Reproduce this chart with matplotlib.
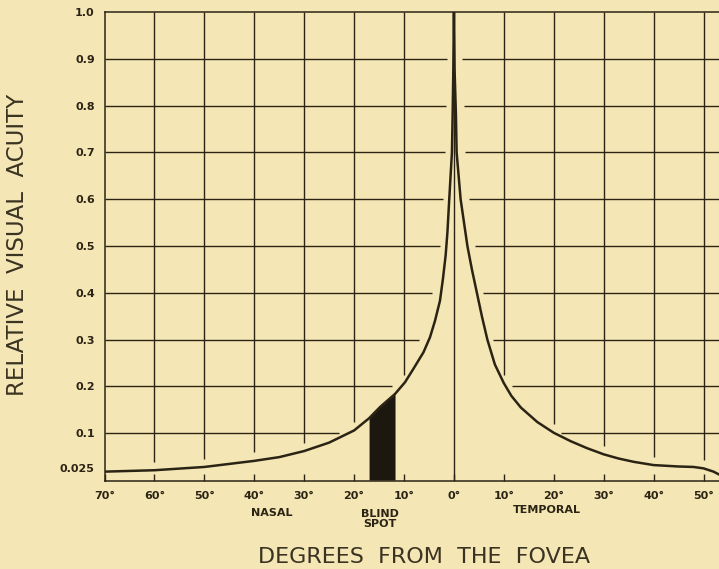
import numpy as np
import matplotlib
matplotlib.use("Agg")
import matplotlib.pyplot as plt

# degrees from the fovea: nasal negative, temporal positive
deg = [-70, -60, -50, -40, -35, -30, -25, -20, -17, -14.8, -11.8, -9.8, -8.1, -6.1,
       -4.8, -3.8, -2.8, -2.2, -1.66, -1.3, -0.94, -0.4, -0.26, -0.12, 0,
       0.12, 0.4, 0.54, 1.34, 2.7, 3.6, 4.6, 5.6, 6.7, 8.2, 10.0, 11.5, 13.4, 16.7,
       20, 23.4, 26.7, 30, 33, 36, 40, 45, 48, 50, 52, 53.1]
acuity = [0.018, 0.021, 0.028, 0.041, 0.049, 0.062, 0.080, 0.106, 0.132, 0.156, 0.184,
          0.209, 0.238, 0.273, 0.305, 0.340, 0.383, 0.430, 0.480, 0.530, 0.600, 0.700,
          0.780, 0.880, 1.0,
          0.880, 0.780, 0.700, 0.600, 0.500, 0.450, 0.400, 0.350, 0.300, 0.247, 0.207,
          0.180, 0.155, 0.124, 0.101, 0.083, 0.068, 0.055, 0.046, 0.039, 0.032, 0.029,
          0.028, 0.025, 0.018, 0.012]

blind_spot = [-17.0, -11.8]

x_ticks = [-70, -60, -50, -40, -30, -20, -10, 0, 10, 20, 30, 40, 50]
x_labels = ["70°", "60°", "50°", "40°", "30°", "20°", "10°", "0°", "10°", "20°", "30°", "40°", "50°"]
y_ticks = [1.0, 0.9, 0.8, 0.7, 0.6, 0.5, 0.4, 0.3, 0.2, 0.1, 0.025]
y_labels = ["1.0", "0.9", "0.8", "0.7", "0.6", "0.5", "0.4", "0.3", "0.2", "0.1", "0.025"]

ink = "#2b2415"
paper = "#f5e7b5"
W, H = 719, 569

fig = plt.figure(figsize=(W / 100, H / 100), dpi=100, facecolor=paper)
ax = fig.add_axes([104.5 / W, 1 - 481 / H, 1 - 104.5 / W, (481 - 12) / H])
ax.set_facecolor(paper)
ax.set_xlim(-70, 53.1)
ax.set_ylim(-0.002, 1.0)

deg_a = np.array(deg)
acu_a = np.array(acuity)
left = deg_a <= 0
right = deg_a >= 0

# horizontal grid lines, broken where they meet the curve
for v in y_ticks[1:-1]:
    xl = np.interp(v, acu_a[left], deg_a[left])
    xr = np.interp(v, acu_a[right][::-1], deg_a[right][::-1])
    gl = 1.9 if v < 0.45 else 1.3
    gr = 1.2 if v < 0.45 else 1.6
    ax.plot([-70, xl - gl], [v, v], color=ink, lw=1.0, solid_capstyle="butt")
    ax.plot([xr + gr, 53.1], [v, v], color=ink, lw=1.0, solid_capstyle="butt")

# vertical grid lines stop just above the curve
for t in x_ticks[1:]:
    if t == 0:
        ax.plot([0, 0], [0, 1], color=ink, lw=1.0)
        continue
    yc = np.interp(t, deg_a, acu_a)
    ax.plot([t, t], [yc + 0.018, 1], color=ink, lw=1.0, solid_capstyle="butt")

# blind spot
bx = np.linspace(blind_spot[0], blind_spot[1], 30)
ax.fill_between(bx, 0, np.interp(bx, deg_a, acu_a), color="#1c1810", lw=0)

ax.plot(deg, acuity, color=ink, lw=1.8, solid_joinstyle="round")

ax.spines["right"].set_visible(False)
for s in ["left", "top", "bottom"]:
    ax.spines[s].set_color(ink)
    ax.spines[s].set_linewidth(1.1)

ax.set_xticks(x_ticks)
ax.set_xticklabels(x_labels, fontsize=8, fontweight="bold", color=ink)
ax.set_yticks(y_ticks)
ax.set_yticklabels(y_labels, fontsize=8, fontweight="bold", color=ink)
ax.tick_params(axis="x", direction="in", length=5, width=1.0, color=ink, pad=7)
ax.tick_params(axis="y", length=0, pad=7)

fig.text(272 / W, 1 - 513 / H, "NASAL", ha="center", va="center",
         fontsize=8, fontweight="bold", color=ink)
fig.text(380 / W, 1 - 519 / H, "BLIND\nSPOT", ha="center", va="center",
         fontsize=8, fontweight="bold", color=ink, linespacing=1.1)
fig.text(547 / W, 1 - 510 / H, "TEMPORAL", ha="center", va="center",
         fontsize=8, fontweight="bold", color=ink)

fig.text(424 / W, 1 - 557 / H, "DEGREES  FROM  THE  FOVEA", ha="center", va="center",
         fontsize=16, color="#3a3322")
fig.text(18 / W, 1 - 245 / H, "RELATIVE  VISUAL  ACUITY", ha="center", va="center",
         rotation=90, fontsize=16.5, color="#3a3322")

fig.savefig("out.png", dpi=100, facecolor=paper)
